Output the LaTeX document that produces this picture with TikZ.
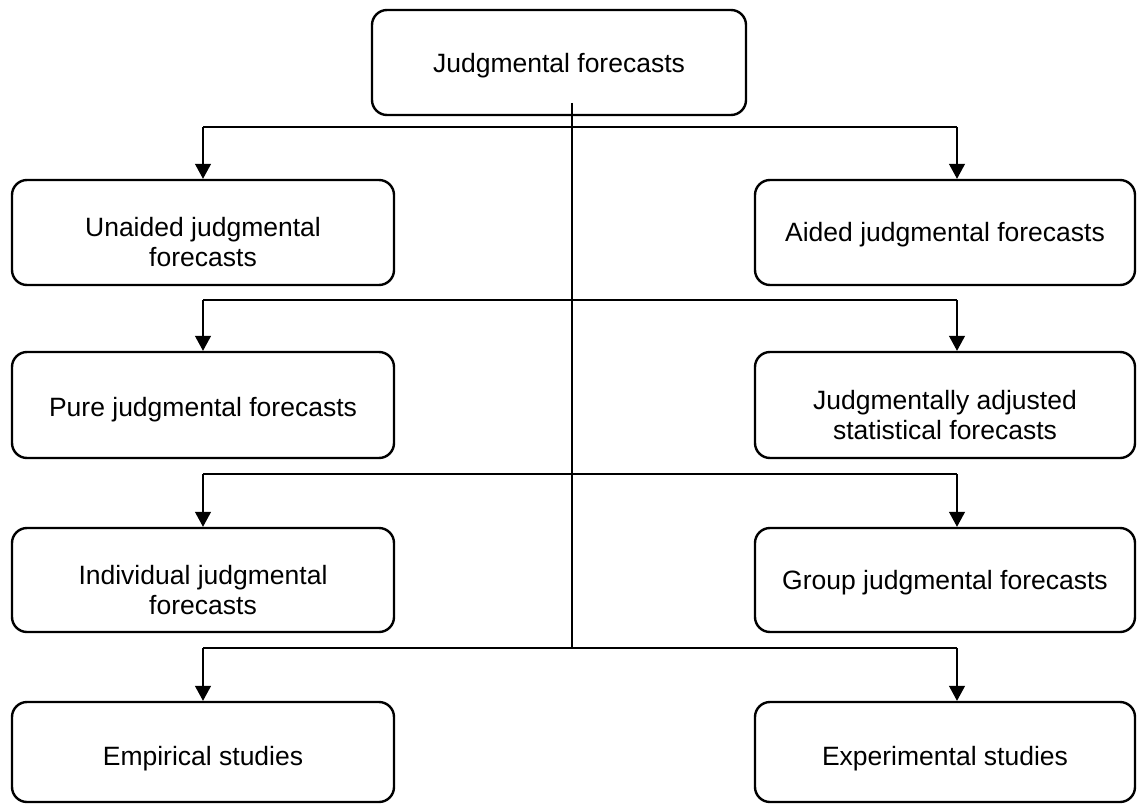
\documentclass[tikz,border=0pt]{standalone}
\usepackage{fontspec}
\setmainfont{Liberation Sans}
\usetikzlibrary{arrows.meta}
% text block lowered by #1 inside its box, keeping the box's own size
\newcommand\droptext[2]{\raisebox{-#1}[\height][\depth]{\begin{tabular}{@{}c@{}}#2\end{tabular}}}
\begin{document}
\begin{tikzpicture}[x=1pt,y=-1pt,
  box/.style={draw, line width=2.4pt, rounded corners=15pt, inner sep=0pt,
    font=\fontsize{26.5}{30}\selectfont},
  lbox/.style={box, minimum width=382pt},
  rbox/.style={box, minimum width=380pt},
  link/.style={line width=1.2pt},
  arr/.style={link, -{Triangle[width=16pt,length=15pt]}}]
\useasboundingbox (0,0) rectangle (1139,805);

% boxes
\node[box, minimum width=374pt, minimum height=105pt] (jf) at (559,62.5)
  {\droptext{4pt}{Judgmental forecasts}};
\node[lbox, minimum height=105pt] (una) at (203,232.5)
  {\droptext{13pt}{Unaided judgmental\\forecasts}};
\node[rbox, minimum height=105pt] (aid) at (945,232.5)
  {\droptext{3pt}{Aided judgmental forecasts}};
\node[lbox, minimum height=106pt] (pure) at (203,405)
  {\droptext{5pt}{Pure judgmental forecasts}};
\node[rbox, minimum height=106pt] (adj) at (945,405)
  {\droptext{13pt}{Judgmentally adjusted\\statistical forecasts}};
\node[lbox, minimum height=104pt] (ind) at (203,580)
  {\droptext{13pt}{Individual judgmental\\forecasts}};
\node[rbox, minimum height=104pt] (grp) at (945,580)
  {\droptext{3pt}{Group judgmental forecasts}};
\node[lbox, minimum height=100pt] (emp) at (203,752)
  {\droptext{7pt}{Empirical studies}};
\node[rbox, minimum height=100pt] (exp) at (945,752)
  {\droptext{7pt}{Experimental studies}};

% spine and branch points
\coordinate (s0) at (572,103);
\coordinate (s4) at (572,648);
\coordinate (l1) at (203,127);  \coordinate (r1) at (957,127);
\coordinate (l2) at (203,300);  \coordinate (r2) at (957,300);
\coordinate (l3) at (203,474);  \coordinate (r3) at (957,474);
\coordinate (l4) at (203,648);  \coordinate (r4) at (957,648);

\draw[link] (s0) -- (s4);
\foreach \i in {1,2,3,4} \draw[link] (l\i) -- (r\i);

\draw[arr] (l1) -- (l1 |- una.north);
\draw[arr] (r1) -- (r1 |- aid.north);
\draw[arr] (l2) -- (l2 |- pure.north);
\draw[arr] (r2) -- (r2 |- adj.north);
\draw[arr] (l3) -- (l3 |- ind.north);
\draw[arr] (r3) -- (r3 |- grp.north);
\draw[arr] (l4) -- (l4 |- emp.north);
\draw[arr] (r4) -- (r4 |- exp.north);
\end{tikzpicture}
\end{document}
